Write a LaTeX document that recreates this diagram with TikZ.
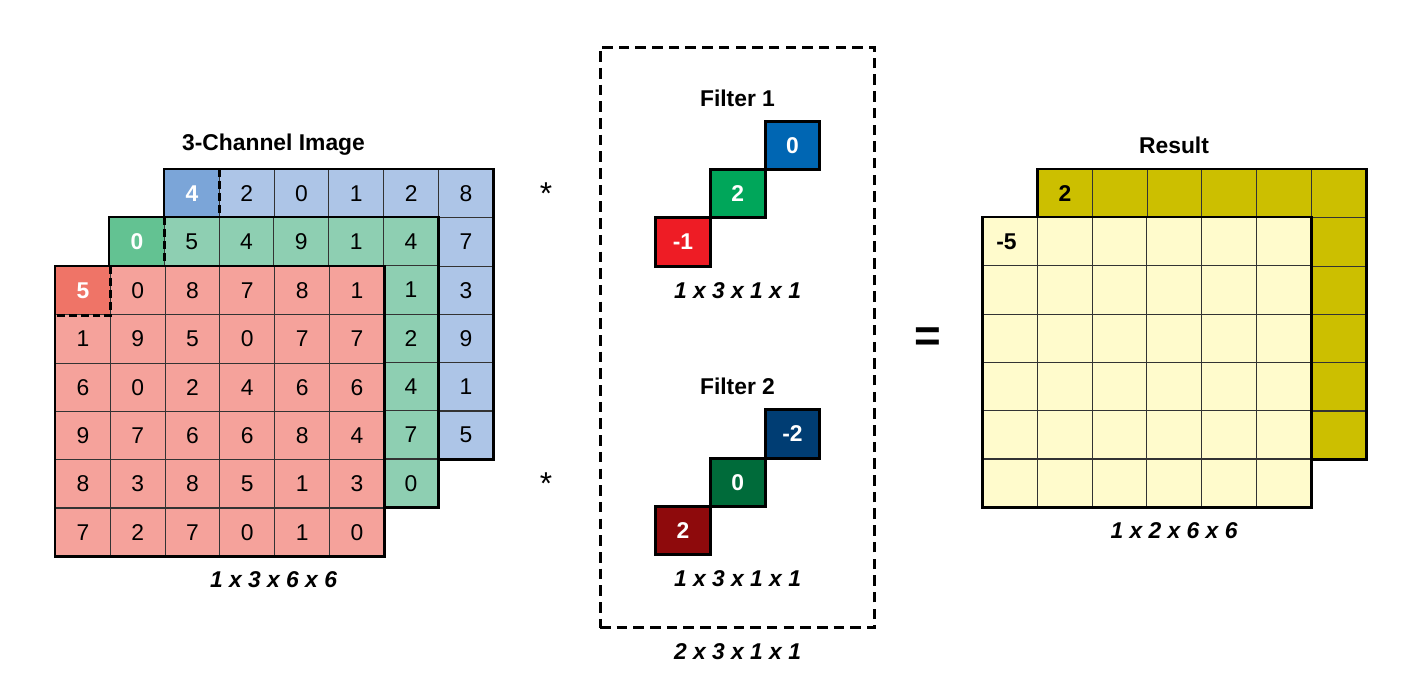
\documentclass[tikz,border=0pt]{standalone}
\usepackage{fontspec}
\setmainfont{Liberation Sans}
\usetikzlibrary{positioning}
\definecolor{credL}{HTML}{F5A29B}
\definecolor{credD}{HTML}{EF7467}
\definecolor{cgreenL}{HTML}{8ECFB2}
\definecolor{cgreenD}{HTML}{63C292}
\definecolor{cblueL}{HTML}{ADC5E7}
\definecolor{cblueD}{HTML}{7BA5D8}
\definecolor{cfa}{HTML}{0066B3}
\definecolor{cfb}{HTML}{00A65A}
\definecolor{cfc}{HTML}{EE1C25}
\definecolor{cga}{HTML}{003D73}
\definecolor{cgb}{HTML}{006B3A}
\definecolor{cgc}{HTML}{8E0A0C}
\definecolor{colive}{HTML}{CCBF00}
\definecolor{clemon}{HTML}{FFFBCC}
\tikzset{
  every picture/.style={font=\fontsize{13}{15}\selectfont, line width=0.6pt},
  cell/.style={draw=black!80, fill=#1, minimum width=1.096cm, minimum height=0.966cm, inner sep=0pt, anchor=north west},
  frame/.style={draw=black, line width=1.7pt},
  hl/.style={draw=black, line width=1.7pt, dash pattern=on 4.5pt off 2.3pt},
  lead/.style={text=white, font=\fontsize{13}{15}\selectfont\bfseries},
  fcell/.style={draw=black, line width=1.7pt, fill=#1, text=white, font=\fontsize{13}{15}\selectfont\bfseries, minimum width=1.096cm, minimum height=0.966cm, inner sep=0pt, outer sep=0pt},
  title/.style={font=\fontsize{13}{15}\selectfont\bfseries},
  dims/.style={font=\fontsize{13}{15}\selectfont\bfseries\itshape},
}
\begin{document}
\begin{tikzpicture}[x=0.02cm, y=-0.02cm]
  \useasboundingbox (0,0) rectangle (1426,683);
  % input image, back to front
  \foreach \r in {1,...,6} \foreach \c in {1,...,6} {
    \ifnum\r\c=11 \colorlet{fc}{cblueD}\else\colorlet{fc}{cblueL}\fi
    \node[cell=fc] (b-\r-\c) at ({164+54.8*(\c-1)}, {169+48.3*(\r-1)}) {};
  }
  \draw[frame] (b-1-1.north west) rectangle (b-6-6.south east);
  \draw[hl] (b-1-1.north east) -- (b-1-1.south east);
  \foreach \v [count=\c] in {4,2,0,1,2,8} {\ifnum\c=1 \node[lead] at (b-1-\c) {\v};\else \node at (b-1-\c) {\v};\fi}
  \foreach \v [count=\r from 2] in {7,3,9,1,5} \node at (b-\r-6) {\v};

  \foreach \r in {1,...,6} \foreach \c in {1,...,6} {
    \ifnum\r\c=11 \colorlet{fc}{cgreenD}\else\colorlet{fc}{cgreenL}\fi
    \node[cell=fc] (g-\r-\c) at ({109+54.8*(\c-1)}, {217+48.3*(\r-1)}) {};
  }
  \draw[frame] (g-1-1.north west) rectangle (g-6-6.south east);
  \draw[hl] (g-1-1.north east) -- (g-1-1.south east);
  \foreach \v [count=\c] in {0,5,4,9,1,4} {\ifnum\c=1 \node[lead] at (g-1-\c) {\v};\else \node at (g-1-\c) {\v};\fi}
  \foreach \v [count=\r from 2] in {1,2,4,7,0} \node at (g-\r-6) {\v};

  \foreach \r in {1,...,6} \foreach \c in {1,...,6} {
    \ifnum\r\c=11 \colorlet{fc}{credD}\else\colorlet{fc}{credL}\fi
    \node[cell=fc] (r-\r-\c) at ({55+54.8*(\c-1)}, {266+48.3*(\r-1)}) {};
  }
  \draw[frame] (r-1-1.north west) rectangle (r-6-6.south east);
  \draw[hl] (r-1-1.north east) -- (r-1-1.south east) -- (r-1-1.south west);
  \foreach \row [count=\r] in {{5,0,8,7,8,1},{1,9,5,0,7,7},{6,0,2,4,6,6},{9,7,6,6,8,4},{8,3,8,5,1,3},{7,2,7,0,1,0}}
    \foreach \v [count=\c] in \row {\ifnum\r\c=11 \node[lead] at (r-\r-\c) {\v};\else \node at (r-\r-\c) {\v};\fi}
  \node[title] (imgtitle) at (273.5,145) {3-Channel Image};
  \node[dims] (imgdims) at (273.5,580) {1 x 3 x 6 x 6};

  % filters
  \node[font=\fontsize{18}{20}\selectfont] (star1) at (546,194) {*};
  \node[font=\fontsize{18}{20}\selectfont] (star2) at (546,484) {*};
  \node[draw, line width=1.7pt, dash pattern=on 6pt off 3.5pt, minimum width=5.5cm, minimum height=11.62cm] (filters) at (737.5,337.5) {};
  \node[dims, below=0.16cm of filters] (fdims) {2 x 3 x 1 x 1};

  \node[title] (f1title) at (737.5,98) {Filter 1};
  \node[fcell=cfa] (f1-3) at (792.5,145.5) {0};
  \node[fcell=cfb, below left=0pt of f1-3] (f1-2) {2};
  \node[fcell=cfc, below left=0pt of f1-2] (f1-1) {-1};
  \node[dims] (f1dims) at (737.5,291) {1 x 3 x 1 x 1};

  \node[title] (f2title) at (737.5,386) {Filter 2};
  \node[fcell=cga] (f2-3) at (792.5,434) {-2};
  \node[fcell=cgb, below left=0pt of f2-3] (f2-2) {0};
  \node[fcell=cgc, below left=0pt of f2-2] (f2-1) {2};
  \node[dims] (f2dims) at (737.5,579) {1 x 3 x 1 x 1};

  \node[font=\fontsize{26}{28}\selectfont\bfseries] (eq) at (928,340) {=};

  % result
  \foreach \r in {1,...,6} \foreach \c in {1,...,6}
    \node[cell=colive] (rb-\r-\c) at ({1037+54.8*(\c-1)}, {169+48.3*(\r-1)}) {};
  \draw[frame] (rb-1-1.north west) rectangle (rb-6-6.south east);
  \node[title, text=black] at (rb-1-1) {2};
  \foreach \r in {1,...,6} \foreach \c in {1,...,6}
    \node[cell=clemon] (rf-\r-\c) at ({982+54.8*(\c-1)}, {217+48.3*(\r-1)}) {};
  \draw[frame] (rf-1-1.north west) rectangle (rf-6-6.south east);
  \node[title] at ([xshift=-2pt]rf-1-1) {-5};
  \node[title] (restitle) at (1174,145) {Result};
  \node[dims] (resdims) at (1174,531) {1 x 2 x 6 x 6};
\end{tikzpicture}
\end{document}
